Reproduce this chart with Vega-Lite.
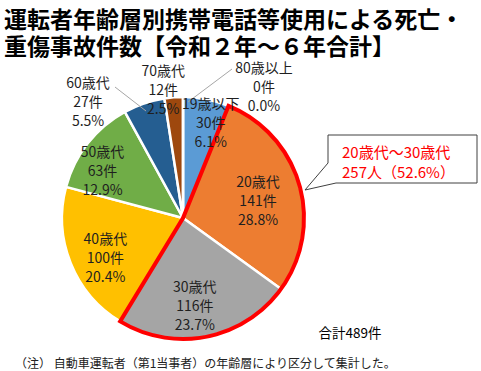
{
  "$schema": "https://vega.github.io/schema/vega-lite/v6.json",
  "width": 366,
  "height": 246,
  "autosize": {"type": "none"},
  "padding": {"left": 0, "top": 95, "right": 115, "bottom": 30},
  "background": "#ffffff",
  "config": {"view": {"stroke": null}, "font": "Noto Sans CJK JP"},
  "title": {
    "text": "運転者年齢層別携帯電話等使用による死亡・",
    "subtitle": "重傷事故件数【令和２年～６年合計】",
    "anchor": "start",
    "frame": "group",
    "dx": 4,
    "offset": 2,
    "font": "Noto Sans CJK JP",
    "fontSize": 23,
    "fontWeight": "bold",
    "color": "#000000",
    "lineHeight": 23,
    "subtitleFont": "Noto Sans CJK JP",
    "subtitleFontSize": 23,
    "subtitleFontWeight": "bold",
    "subtitleColor": "#000000",
    "subtitleLineHeight": 23,
    "subtitlePadding": 4
  },
  "data": {
    "values": [
      {"age": "19歳以下", "count": 30, "pct": 6.1, "order": 1},
      {"age": "20歳代", "count": 141, "pct": 28.8, "order": 2},
      {"age": "30歳代", "count": 116, "pct": 23.7, "order": 3},
      {"age": "40歳代", "count": 100, "pct": 20.4, "order": 4},
      {"age": "50歳代", "count": 63, "pct": 12.9, "order": 5},
      {"age": "60歳代", "count": 27, "pct": 5.5, "order": 6},
      {"age": "70歳代", "count": 12, "pct": 2.5, "order": 7},
      {"age": "80歳以上", "count": 0, "pct": 0.0, "order": 8}
    ]
  },
  "transform": [
    {"joinaggregate": [{"op": "sum", "field": "count", "as": "total"}]},
    {"stack": "count", "groupby": [], "sort": [{"field": "order", "order": "ascending"}], "as": ["start", "end"]},
    {"calculate": "(datum.start + datum.end) / 2", "as": "mid"},
    {"calculate": "datum.age + '\\n' + datum.count + '件\\n' + format(datum.pct, '.1f') + '%'", "as": "label"}
  ],
  "layer": [
    {
      "mark": {"type": "arc", "outerRadius": 121, "stroke": "#ffffff", "strokeWidth": 2.5, "strokeJoin": "round"},
      "encoding": {
        "theta": {"field": "start", "type": "quantitative"},
        "theta2": {"field": "end"},
        "color": {
          "field": "age",
          "type": "nominal",
          "scale": {
            "domain": ["19歳以下", "20歳代", "30歳代", "40歳代", "50歳代", "60歳代", "70歳代", "80歳以上"],
            "range": ["#5B9BD5", "#ED7D31", "#A5A5A5", "#FFC000", "#70AD47", "#255E91", "#9E480E", "#636363"]
          },
          "legend": null
        }
      }
    },
    {
      "transform": [
        {"filter": "datum.age === '20歳代' || datum.age === '30歳代'"},
        {"aggregate": [{"op": "min", "field": "start", "as": "s"}, {"op": "max", "field": "end", "as": "e"}]}
      ],
      "mark": {"type": "arc", "outerRadius": 121, "fill": "transparent", "stroke": "#FF0000", "strokeWidth": 4, "strokeJoin": "miter"},
      "encoding": {
        "theta": {"field": "s", "type": "quantitative"},
        "theta2": {"field": "e"}
      }
    },
    {
      "transform": [{"filter": "datum.age === '19歳以下'"}],
      "mark": {"type": "point", "shape": "M49,-149L5,-116M-68,-131L-37,-107", "size": 4, "filled": false, "fill": "transparent", "stroke": "#A6A6A6", "strokeWidth": 1, "opacity": 1},
      "encoding": {}
    },
    {
      "transform": [{"filter": "datum.age === '19歳以下'"}],
      "mark": {"type": "point", "shape": "M145,-83L145,-55L122,-28L153,-35L294,-35L294,-83Z", "size": 4, "filled": true, "fill": "#ffffff", "stroke": "#404040", "strokeWidth": 1, "opacity": 1},
      "encoding": {}
    },
    {
      "transform": [{"filter": "datum.age === '19歳以下'"}],
      "mark": {"type": "text", "radius": 98, "dx": 9, "dy": -17, "fontSize": 14, "lineHeight": 19, "lineBreak": "\n", "color": "#1f1f1f", "align": "center", "baseline": "middle"},
      "encoding": {"theta": {"field": "mid", "type": "quantitative"}, "text": {"field": "label"}}
    },
    {
      "transform": [{"filter": "datum.age === '20歳代'"}],
      "mark": {"type": "text", "radius": 77, "dx": 1, "dy": -14, "fontSize": 14, "lineHeight": 19, "lineBreak": "\n", "color": "#1f1f1f", "align": "center", "baseline": "middle"},
      "encoding": {"theta": {"field": "mid", "type": "quantitative"}, "text": {"field": "label"}}
    },
    {
      "transform": [{"filter": "datum.age === '30歳代'"}],
      "mark": {"type": "text", "radius": 90, "dx": -6, "dy": -18, "fontSize": 14, "lineHeight": 19, "lineBreak": "\n", "color": "#1f1f1f", "align": "center", "baseline": "middle"},
      "encoding": {"theta": {"field": "mid", "type": "quantitative"}, "text": {"field": "label"}}
    },
    {
      "transform": [{"filter": "datum.age === '40歳代'"}],
      "mark": {"type": "text", "radius": 88, "dx": 4, "dy": -11, "fontSize": 14, "lineHeight": 19, "lineBreak": "\n", "color": "#1f1f1f", "align": "center", "baseline": "middle"},
      "encoding": {"theta": {"field": "mid", "type": "quantitative"}, "text": {"field": "label"}}
    },
    {
      "transform": [{"filter": "datum.age === '50歳代'"}],
      "mark": {"type": "text", "radius": 92, "dx": -8, "dy": -8, "fontSize": 14, "lineHeight": 19, "lineBreak": "\n", "color": "#1f1f1f", "align": "center", "baseline": "middle"},
      "encoding": {"theta": {"field": "mid", "type": "quantitative"}, "text": {"field": "label"}}
    },
    {
      "transform": [{"filter": "datum.age === '60歳代'"}],
      "mark": {"type": "text", "radius": 149, "dx": -47, "dy": 7, "fontSize": 14, "lineHeight": 19, "lineBreak": "\n", "color": "#1f1f1f", "align": "center", "baseline": "middle"},
      "encoding": {"theta": {"field": "mid", "type": "quantitative"}, "text": {"field": "label"}}
    },
    {
      "transform": [{"filter": "datum.age === '70歳代'"}],
      "mark": {"type": "text", "radius": 128, "dx": -10, "dy": -18, "fontSize": 14, "lineHeight": 19, "lineBreak": "\n", "color": "#1f1f1f", "align": "center", "baseline": "middle"},
      "encoding": {"theta": {"field": "mid", "type": "quantitative"}, "text": {"field": "label"}}
    },
    {
      "transform": [{"filter": "datum.age === '80歳以上'"}],
      "mark": {"type": "text", "radius": 155, "dx": 81, "dy": 6, "fontSize": 14, "lineHeight": 19, "lineBreak": "\n", "color": "#1f1f1f", "align": "center", "baseline": "middle"},
      "encoding": {"theta": {"field": "mid", "type": "quantitative"}, "text": {"field": "label"}}
    },
    {
      "transform": [
        {"filter": "datum.age === '20歳代' || datum.age === '30歳代'"},
        {"aggregate": [{"op": "sum", "field": "count", "as": "n"}, {"op": "max", "field": "total", "as": "tot"}]},
        {"calculate": "'20歳代～30歳代\\n' + datum.n + '人（' + format(datum.n / datum.tot * 100, '.1f') + '%）'", "as": "callout"}
      ],
      "mark": {"type": "text", "dx": 159, "dy": -65, "fontSize": 15, "lineHeight": 20, "lineBreak": "\n", "color": "#FF0000", "align": "left", "baseline": "middle"},
      "encoding": {"text": {"field": "callout"}}
    },
    {
      "transform": [
        {"aggregate": [{"op": "max", "field": "total", "as": "tot"}]},
        {"calculate": "'合計' + datum.tot + '件'", "as": "sumlabel"}
      ],
      "mark": {"type": "text", "dx": 167, "dy": 116, "fontSize": 13.5, "color": "#000000", "align": "center", "baseline": "middle"},
      "encoding": {"text": {"field": "sumlabel"}}
    },
    {
      "transform": [{"filter": "datum.age === '19歳以下'"}],
      "mark": {"type": "text", "dx": -168, "dy": 146, "fontSize": 12, "color": "#222222", "align": "left", "baseline": "middle"},
      "encoding": {"text": {"value": "（注） 自動車運転者（第1当事者）の年齢層により区分して集計した。"}}
    }
  ]
}
